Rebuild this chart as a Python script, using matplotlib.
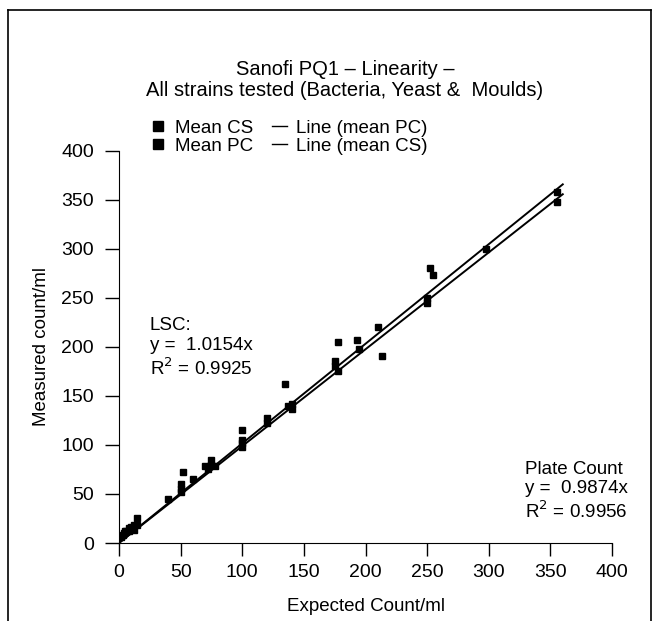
import numpy as np
import matplotlib.pyplot as plt
from matplotlib.lines import Line2D

plt.rcParams['font.family'] = ['Liberation Sans', 'DejaVu Sans']

# ---------- data ----------
cs_x = [2, 4, 6, 8, 10, 12, 15, 40, 50, 52, 60, 70, 75, 78, 100, 100, 120,
        135, 140, 175, 178, 193, 210, 250, 252, 298, 355]
cs_y = [6, 10, 12, 15, 14, 18, 25, 45, 55, 72, 65, 78, 85, 78, 105, 115, 127,
        162, 142, 185, 205, 207, 220, 250, 280, 300, 358]

pc_x = [3, 5, 8, 10, 12, 15, 50, 50, 72, 75, 100, 100, 120, 137, 140, 175,
        178, 195, 213, 250, 255, 355]
pc_y = [8, 12, 12, 16, 13, 18, 52, 60, 75, 80, 98, 102, 122, 140, 137, 180,
        175, 198, 191, 245, 273, 348]

slope_cs = 1.0154
slope_pc = 0.9874
fit_x = np.array([0, 360])

# ---------- plot ----------
fig = plt.figure(figsize=(6.61, 6.21), dpi=100)
ax = fig.add_axes([0.18, 0.1256, 0.746, 0.632])

ax.plot(fit_x, slope_cs * fit_x, color='black', lw=1.4)
ax.plot(fit_x, slope_pc * fit_x, color='black', lw=1.4)
ax.plot(cs_x, cs_y, 's', color='black', ms=4, ls='none')
ax.plot(pc_x, pc_y, 's', color='black', ms=4, ls='none')

ax.set_xlim(0, 400)
ax.set_ylim(0, 400)
ax.set_xticks(range(0, 401, 50))
ax.set_yticks(range(0, 401, 50))
ax.spines['top'].set_visible(False)
ax.spines['right'].set_visible(False)
ax.tick_params(axis='x', direction='out', length=9, width=1, labelsize=14, pad=6)
ax.tick_params(axis='y', direction='out', length=10, width=1, labelsize=14, pad=8)
ax.set_xlabel('Expected Count/ml', fontsize=13.5, labelpad=12)
ax.set_ylabel('Measured count/ml', fontsize=13.5, labelpad=8)

ax.text(25, 230, 'LSC:\ny =  1.0154x\nR$^2$ = 0.9925', fontsize=13.5,
        va='top', linespacing=1.2)
ax.text(329, 84, 'Plate Count\ny =  0.9874x\nR$^2$ = 0.9956', fontsize=13.5,
        va='top', linespacing=1.2)

fig.text(0.522, 0.871, 'Sanofi PQ1 – Linearity –\nAll strains tested (Bacteria, Yeast &  Moulds)',
         ha='center', va='center', fontsize=14.5, linespacing=1.1)

handles = [
    Line2D([], [], marker='s', color='black', ls='none', ms=7),
    Line2D([], [], marker='s', color='black', ls='none', ms=7),
    Line2D([], [], color='black', lw=1),
    Line2D([], [], color='black', lw=1),
]
labels = ['Mean CS', 'Mean PC', 'Line (mean PC)', 'Line (mean CS)']
fig.legend(handles, labels, ncol=2, loc='center', bbox_to_anchor=(0.437, 0.779),
           frameon=False, fontsize=13.5, handlelength=0.8, handletextpad=0.5,
           columnspacing=1.0, labelspacing=0.05)

# border around the figure (left, top, right)
fig.add_artist(Line2D([0.012, 0.012], [0.0, 0.984], color='black', lw=1.2))
fig.add_artist(Line2D([0.012, 0.985], [0.984, 0.984], color='black', lw=1.2))
fig.add_artist(Line2D([0.985, 0.985], [0.0, 0.984], color='black', lw=1.2))

fig.savefig('out.png', dpi=100)
